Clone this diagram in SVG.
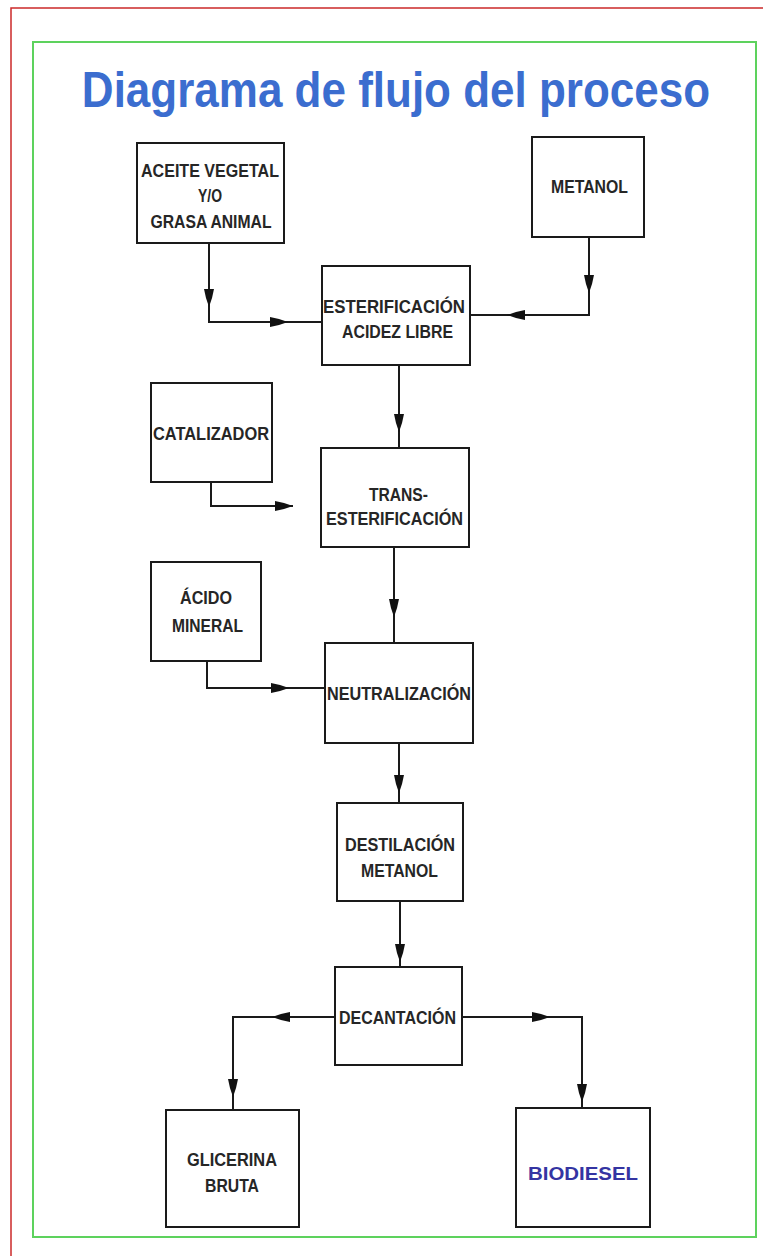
<svg xmlns="http://www.w3.org/2000/svg" xmlns:xlink="http://www.w3.org/1999/xlink" width="763" height="1256" viewBox="0 0 763 1256">
<style>
.box{fill:#fff;stroke:#1a1a1a;stroke-width:2}
.t{font-family:"Liberation Sans",Arial,sans-serif;font-weight:bold;font-size:19px;fill:#262626;text-anchor:middle}
.ln{fill:none;stroke:#1a1a1a;stroke-width:2}
.title{font-family:"Liberation Sans",Arial,sans-serif;font-weight:bold;font-size:44px;fill:#3b6dcf;text-anchor:middle}
</style>
<defs>
<path id="ah" d="M0,0 L-9,-3 L-18,-5 L-18,5 L-9,3 Z" fill="#111"/>
</defs>
<rect x="0" y="0" width="763" height="1256" fill="#fff"/>
<rect x="11" y="8" width="800" height="1300" fill="none" stroke="#cc2a2a" stroke-width="1.5"/>
<rect x="33" y="42" width="723" height="1195" fill="none" stroke="#5dd25d" stroke-width="2"/>
<text class="title" transform="translate(396,107) scale(1,1.15)" x="0" y="0">Diagrama de flujo del proceso</text>

<g id="connectors">
<path class="ln" d="M209,243 V322 H322"/>
<path class="ln" d="M589,237 V315 H470"/>
<path class="ln" d="M399,365 V448"/>
<path class="ln" d="M211,482 V506 H293"/>
<path class="ln" d="M394,547 V643"/>
<path class="ln" d="M207,661 V688 H325"/>
<path class="ln" d="M399,743 V803"/>
<path class="ln" d="M400,901 V967"/>
<path class="ln" d="M335,1017 H233 V1110"/>
<path class="ln" d="M462,1017 H582 V1108"/>
<use xlink:href="#ah" transform="translate(209,307) rotate(90)"/>
<use xlink:href="#ah" transform="translate(288,322)"/>
<use xlink:href="#ah" transform="translate(589,293) rotate(90)"/>
<use xlink:href="#ah" transform="translate(507,315) rotate(180)"/>
<use xlink:href="#ah" transform="translate(399,432) rotate(90)"/>
<use xlink:href="#ah" transform="translate(293,506)"/>
<use xlink:href="#ah" transform="translate(394,617) rotate(90)"/>
<use xlink:href="#ah" transform="translate(289,688)"/>
<use xlink:href="#ah" transform="translate(399,793) rotate(90)"/>
<use xlink:href="#ah" transform="translate(400,962) rotate(90)"/>
<use xlink:href="#ah" transform="translate(272,1017) rotate(180)"/>
<use xlink:href="#ah" transform="translate(233,1097) rotate(90)"/>
<use xlink:href="#ah" transform="translate(550,1017)"/>
<use xlink:href="#ah" transform="translate(582,1102) rotate(90)"/>
</g>

<g id="aceite">
<rect class="box" x="137" y="143" width="147" height="100"/>
<text class="t" x="210" y="177" textLength="138" lengthAdjust="spacingAndGlyphs">ACEITE VEGETAL</text>
<text class="t" x="210" y="202" textLength="24" lengthAdjust="spacingAndGlyphs">Y/O</text>
<text class="t" x="211" y="228" textLength="121" lengthAdjust="spacingAndGlyphs">GRASA ANIMAL</text>
</g>
<g id="metanol">
<rect class="box" x="532" y="137" width="112" height="100"/>
<text class="t" x="589.5" y="193" textLength="77" lengthAdjust="spacingAndGlyphs">METANOL</text>
</g>
<g id="esterificacion">
<rect class="box" x="322" y="266" width="148" height="99"/>
<text class="t" x="394" y="313" textLength="142" lengthAdjust="spacingAndGlyphs">ESTERIFICACIÓN</text>
<text class="t" x="397.5" y="338" textLength="111" lengthAdjust="spacingAndGlyphs">ACIDEZ LIBRE</text>
</g>
<g id="catalizador">
<rect class="box" x="151" y="383" width="121" height="99"/>
<text class="t" x="211" y="440" textLength="116" lengthAdjust="spacingAndGlyphs">CATALIZADOR</text>
</g>
<g id="transesterificacion">
<rect class="box" x="321" y="448" width="148" height="99"/>
<text class="t" x="398.5" y="501" textLength="59" lengthAdjust="spacingAndGlyphs">TRANS-</text>
<text class="t" x="394.5" y="525" textLength="137" lengthAdjust="spacingAndGlyphs">ESTERIFICACIÓN</text>
</g>
<g id="acido">
<rect class="box" x="151" y="562" width="110" height="99"/>
<text class="t" x="206" y="604" textLength="52" lengthAdjust="spacingAndGlyphs">ÁCIDO</text>
<text class="t" x="207.5" y="632" textLength="71" lengthAdjust="spacingAndGlyphs">MINERAL</text>
</g>
<g id="neutralizacion">
<rect class="box" x="325" y="643" width="148" height="100"/>
<text class="t" x="399" y="700" textLength="144" lengthAdjust="spacingAndGlyphs">NEUTRALIZACIÓN</text>
</g>
<g id="destilacion">
<rect class="box" x="337" y="803" width="126" height="98"/>
<text class="t" x="400" y="851" textLength="110" lengthAdjust="spacingAndGlyphs">DESTILACIÓN</text>
<text class="t" x="399.5" y="877" textLength="77" lengthAdjust="spacingAndGlyphs">METANOL</text>
</g>
<g id="decantacion">
<rect class="box" x="335" y="967" width="127" height="98"/>
<text class="t" x="397.5" y="1024" textLength="117" lengthAdjust="spacingAndGlyphs">DECANTACIÓN</text>
</g>
<g id="glicerina">
<rect class="box" x="166" y="1110" width="133" height="117"/>
<text class="t" x="232" y="1166" textLength="90" lengthAdjust="spacingAndGlyphs">GLICERINA</text>
<text class="t" x="232" y="1192" textLength="54" lengthAdjust="spacingAndGlyphs">BRUTA</text>
</g>
<g id="biodiesel">
<rect class="box" x="516" y="1108" width="134" height="119"/>
<text class="t" x="583" y="1180" textLength="110" lengthAdjust="spacingAndGlyphs" style="fill:#3434a2">BIODIESEL</text>
</g>
</svg>
